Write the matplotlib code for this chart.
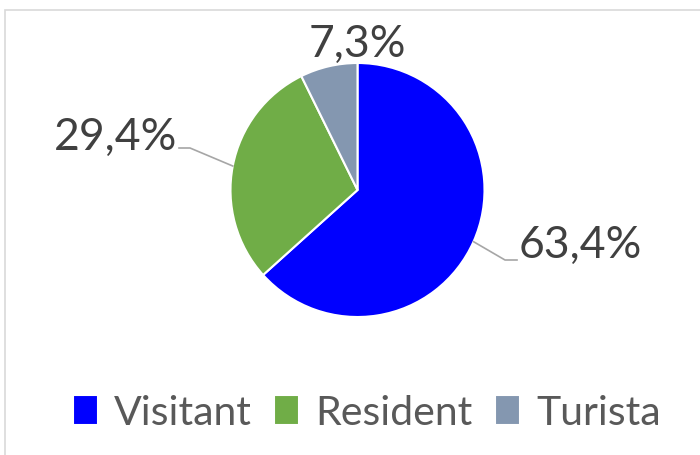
import numpy as np
import matplotlib.pyplot as plt
from matplotlib.patches import Rectangle

# dades
categories = ['Visitant', 'Resident', 'Turista']
valors = [63.4, 29.4, 7.3]
etiquetes = ['63,4%', '29,4%', '7,3%']
colors = ['#0000FF', '#70AD47', '#8497B0']

plt.rcParams['font.family'] = ['Lato', 'DejaVu Sans']

fig = plt.figure(figsize=(7, 4.55), dpi=100)
ax = fig.add_axes([0, 0, 1, 1])

# marc del gràfic (només es veu a dalt i a l'esquerra)
ax.add_patch(Rectangle((5, -20), 800, 465, fill=False, edgecolor='#D9D9D9', linewidth=1.2))

cx, cy, r = 357.5, 265, 127
wedges, _ = ax.pie(valors, colors=colors, startangle=90, counterclock=False,
                   center=(cx, cy), radius=r, frame=True,
                   wedgeprops=dict(edgecolor='white', linewidth=1.5))
ax.set_xlim(0, 700)
ax.set_ylim(0, 455)
ax.set_aspect('equal')
ax.axis('off')

# etiquetes amb línies guia
pos_text = [(519, 210, 'left'), (177, 318, 'right'), (357, 411, 'center')]
colzes = [(505, 195), (190, 307), None]
for w, lab, (tx, ty, ha), colze in zip(wedges, etiquetes, pos_text, colzes):
    ang = np.deg2rad((w.theta1 + w.theta2) / 2)
    ex, ey = cx + r * np.cos(ang), cy + r * np.sin(ang)
    if colze is not None:
        fin = tx - 2 if ha == 'left' else tx + 2
        ax.plot([ex, colze[0], fin], [ey, colze[1], colze[1]], color='#A6A6A6', linewidth=1.2)
    ax.text(tx, ty, lab, ha=ha, va='center', fontsize=32, color='#404040')

# llegenda
leg = ax.legend(wedges, categories, loc='lower center', bbox_to_anchor=(0.524, -0.03),
                ncol=3, frameon=False, fontsize=29.5, handlelength=0.6, handleheight=0.75,
                handletextpad=0.4, columnspacing=0.55, labelcolor='#595959')

plt.savefig('out.png')
